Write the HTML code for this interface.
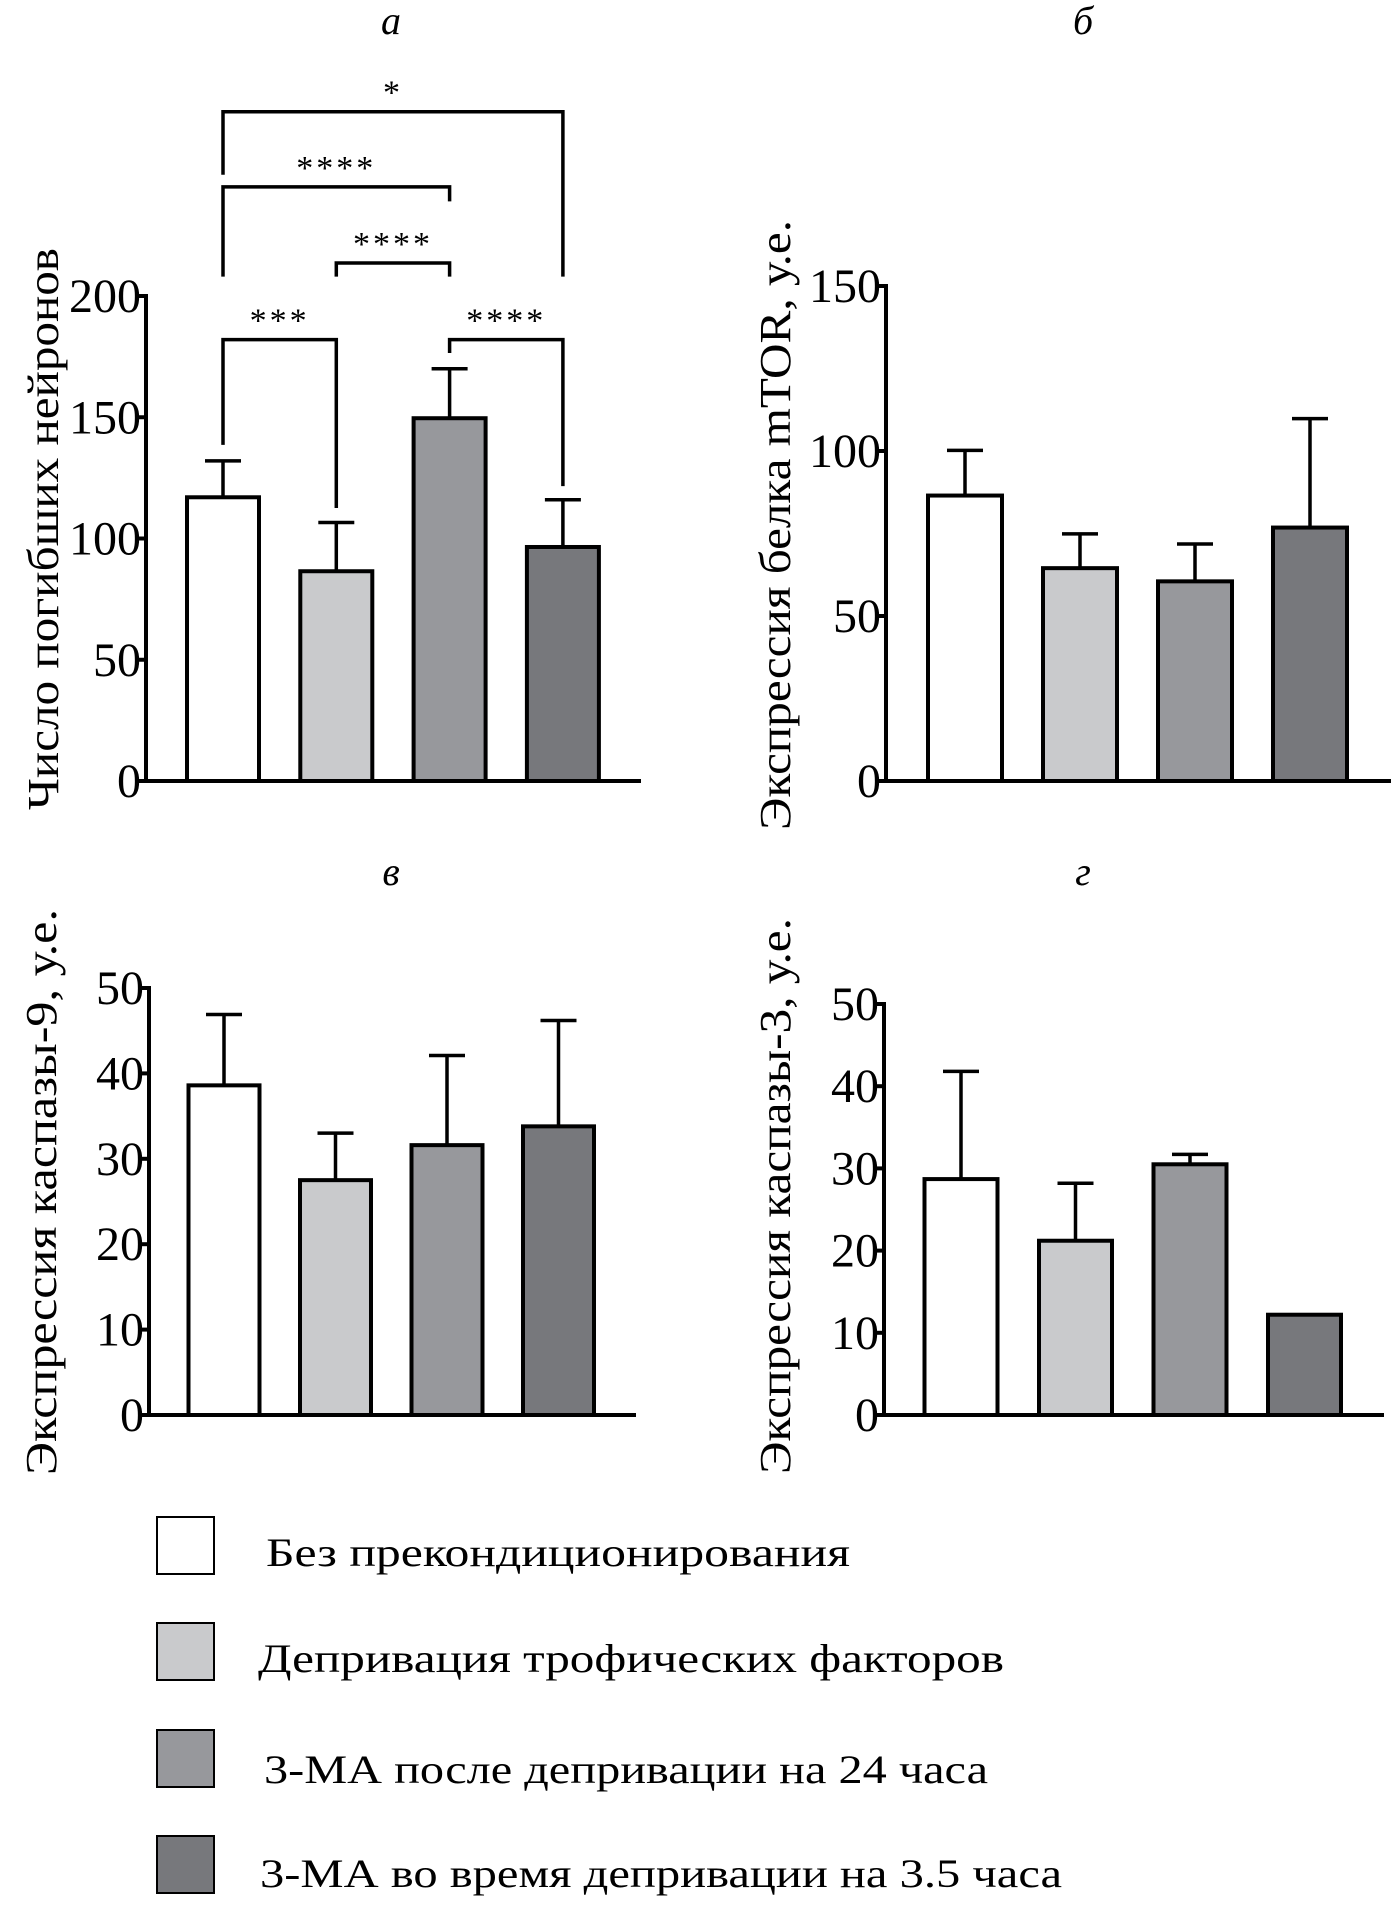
<!DOCTYPE html>
<html><head><meta charset="utf-8"><style>
html,body{margin:0;padding:0;background:#fff;}
svg{display:block;font-family:"Liberation Serif","DejaVu Serif",serif;}
</style></head><body>
<svg id="fig" width="1395" height="1906" viewBox="0 0 1395 1906"></svg>
<script>
const categories = ["Без прекондиционирования","Депривация трофических факторов","3-МА после депривации на 24 часа","3-МА во время депривации на 3.5 часа"];
const fills = ["#ffffff","#c9cacc","#97989c","#77787c"];
const aValues = [117, 86.5, 149.6, 96.5];
const aErrors = [132, 106.6, 170, 116];
const aTicks = [0, 50, 100, 150, 200];
const bValues = [86.5, 64.5, 60.5, 76.8];
const bErrors = [100.2, 74.9, 71.8, 109.8];
const bTicks = [0, 50, 100, 150];
const cValues = [38.6, 27.5, 31.6, 33.8];
const cErrors = [46.9, 33, 42.1, 46.2];
const cTicks = [0, 10, 20, 30, 40, 50];
const dValues = [28.7, 21.2, 30.5, 12.2];
const dErrors = [41.8, 28.2, 31.7, null];
const dTicks = [0, 10, 20, 30, 40, 50];
// significance brackets for panel a
const sigFrom = [0, 0, 1, 0, 2];
const sigTo = [3, 2, 2, 1, 3];
const sigLevel = [276, 245, 213.6, 182, 182];
const sigLeftEnd = [250, 208, 208, 138.6, 176.5];
const sigRightEnd = [208, 239, 208, 112.6, 121.6];
const sigLabels = ["*", "****", "****", "***", "****"];

const NS = "http://www.w3.org/2000/svg";
const svg = document.getElementById("fig");
function mk(tag, attrs, parent, text) {
  const e = document.createElementNS(NS, tag);
  for (const k in attrs) e.setAttribute(k, attrs[k]);
  if (text !== undefined) e.textContent = text;
  (parent || svg).appendChild(e);
  return e;
}

function panel(cfg) {
  const g = mk("g", {});
  
  
  const yMax = cfg.ticks[cfg.ticks.length - 1];
  const y = v => cfg.y0 - (v / yMax) * (cfg.y0 - cfg.yTop);
  const x = i => cfg.c0 + i * cfg.step;
  const t = mk("text", {x: cfg.titleX, y: cfg.titleY, "font-size": 40, "font-style": "italic", "text-anchor": "middle"}, g, cfg.title);
  
  
  const yl = mk("text", {transform: `translate(${cfg.labelX},${cfg.labelStart}) rotate(-90)`, "font-size": 44, textLength: cfg.labelLen, lengthAdjust: "spacingAndGlyphs"}, g, cfg.label);
  
  
  cfg.values.forEach((v, i) => {
    const bw = cfg.bw;
    const r = mk("rect", {x: x(i) - bw / 2, y: y(v), width: bw, height: y(0) - y(v), fill: fills[i], stroke: "#000", "stroke-width": 4}, g);
    
    
    const e = cfg.errors[i];
    if (e !== null && e !== undefined) {
      const eg = mk("g", {stroke: "#000", "stroke-width": 3.5}, g);
      
      
      mk("line", {x1: x(i), x2: x(i), y1: y(v), y2: y(e)}, eg);
      mk("line", {x1: x(i) - 18, x2: x(i) + 18, y1: y(e), y2: y(e)}, eg);
    }
  });
  const ax = mk("g", {stroke: "#000", "stroke-width": 4}, g);
  
  
  mk("line", {x1: cfg.axisX, x2: cfg.axisX, y1: y(yMax) - 2, y2: y(0)}, ax);
  mk("line", {x1: cfg.axisX - 10, x2: cfg.xEnd, y1: y(0), y2: y(0)}, ax);
  cfg.ticks.forEach(tv => {
    mk("line", {x1: cfg.axisX - 10, x2: cfg.axisX, y1: y(tv), y2: y(tv)}, ax);
    const tl = mk("text", {x: cfg.axisX - 5, y: y(tv) + 16, "font-size": 48, "text-anchor": "end"}, g, String(tv));
    
    
  });
  return {g, x, y};
}

const pa = panel({name: "panel-a", title: "а", titleX: 391, titleY: 34, values: aValues, errors: aErrors, ticks: aTicks,
  y0: 781, yTop: 296, c0: 223, step: 113.3, bw: 72, axisX: 146, xEnd: 641,
  label: "Число погибших нейронов", labelX: 58, labelStart: 810, labelLen: 562});
const pb = panel({name: "panel-b", title: "б", titleX: 1083, titleY: 34, values: bValues, errors: bErrors, ticks: bTicks,
  y0: 781, yTop: 286, c0: 965, step: 115, bw: 74, axisX: 886, xEnd: 1391,
  label: "Экспрессия белка mTOR, у.е.", labelX: 790, labelStart: 830, labelLen: 610});
const pc = panel({name: "panel-c", title: "в", titleX: 391, titleY: 885, values: cValues, errors: cErrors, ticks: cTicks,
  y0: 1415, yTop: 988, c0: 224, step: 111.5, bw: 71, axisX: 149, xEnd: 636,
  label: "Экспрессия каспазы-9, у.е.", labelX: 56, labelStart: 1475, labelLen: 566});
const pd = panel({name: "panel-d", title: "г", titleX: 1083, titleY: 885, values: dValues, errors: dErrors, ticks: dTicks,
  y0: 1415, yTop: 1004, c0: 961, step: 114.5, bw: 73, axisX: 884, xEnd: 1384,
  label: "Экспрессия каспазы-3, у.е.", labelX: 790, labelStart: 1474, labelLen: 556});

sigFrom.forEach((f, k) => {
  const bg = mk("g", {}, pa.g);
  
  
  const x1 = pa.x(f), x2 = pa.x(sigTo[k]), yl = pa.y(sigLevel[k]);
  mk("polyline", {points: `${x1},${pa.y(sigLeftEnd[k])} ${x1},${yl} ${x2},${yl} ${x2},${pa.y(sigRightEnd[k])}`, fill: "none", stroke: "#000", "stroke-width": 3.5}, bg);
  mk("text", {x: (x1 + x2) / 2, y: yl - 8, "font-size": 34, "letter-spacing": 3, "text-anchor": "middle"}, bg, sigLabels[k]);
});

const legBoxY = [1517, 1623, 1730, 1836];
const legTextX = [266, 258, 264, 260];
const legTextW = [584, 746, 724, 802];
const legBase = [1566, 1672, 1783, 1887];
const lg = mk("g", {});


categories.forEach((c, i) => {
  const eg = mk("g", {}, lg);
  
  
  mk("rect", {x: 157, y: legBoxY[i], width: 57, height: 57, fill: fills[i], stroke: "#000", "stroke-width": 2}, eg);
  mk("text", {x: legTextX[i], y: legBase[i], "font-size": 40, textLength: legTextW[i], lengthAdjust: "spacingAndGlyphs"}, eg, c);
});
</script>
</body></html>
